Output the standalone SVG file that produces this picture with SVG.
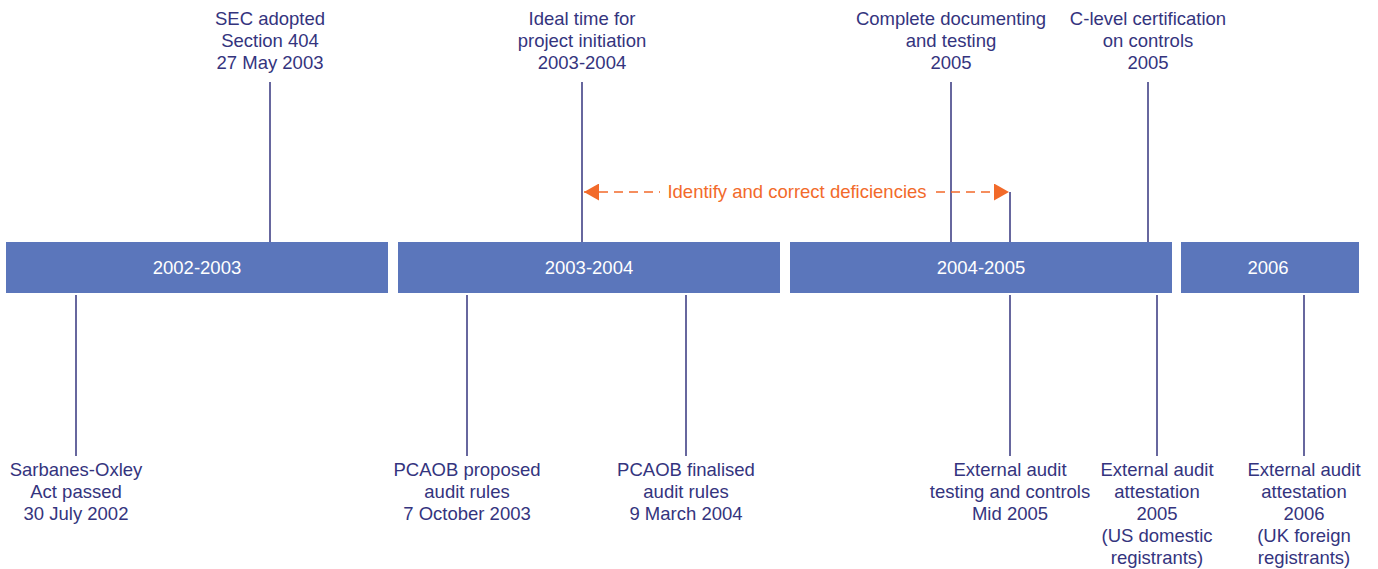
<svg xmlns="http://www.w3.org/2000/svg" width="1378" height="569" viewBox="0 0 1378 569">
  <style>
    .bar { fill: #5b76bb; }
    .bar-label { font-family: "Liberation Sans", Arial, sans-serif; font-size: 18.5px; fill: #ffffff; text-anchor: middle; }
    .label { font-family: "Liberation Sans", Arial, sans-serif; font-size: 18.5px; fill: #34347e; text-anchor: middle; }
    .tick { stroke: #34347e; stroke-width: 1.5; fill: none; }
    .span-line { stroke: #f26a2a; stroke-width: 1.5; stroke-dasharray: 9 6; fill: none; }
    .span-label { font-family: "Liberation Sans", Arial, sans-serif; font-size: 18.5px; fill: #f26a2a; text-anchor: middle; }
  </style>
  <defs>
    <marker id="arrow" viewBox="0 0 10 10" refX="10" refY="5" markerWidth="15" markerHeight="17" markerUnits="userSpaceOnUse" orient="auto-start-reverse" preserveAspectRatio="none">
      <path d="M0,0 L10,5 L0,10 Z" fill="#f26a2a"/>
    </marker>
  </defs>

  <rect width="1378" height="569" fill="#ffffff"/>

  <!-- connectors: ticks joining events to the period bars -->
  <g id="connectors">
    <line class="tick" x1="270" y1="82" x2="270" y2="242"/>
    <line class="tick" x1="582" y1="82" x2="582" y2="242"/>
    <line class="tick" x1="951" y1="82" x2="951" y2="242"/>
    <line class="tick" x1="1148" y1="82" x2="1148" y2="242"/>
    <line class="tick" x1="1010" y1="192" x2="1010" y2="242"/>
    <line class="tick" x1="76" y1="295" x2="76" y2="456"/>
    <line class="tick" x1="467" y1="295" x2="467" y2="456"/>
    <line class="tick" x1="686" y1="295" x2="686" y2="456"/>
    <line class="tick" x1="1010" y1="295" x2="1010" y2="456"/>
    <line class="tick" x1="1157" y1="295" x2="1157" y2="456"/>
    <line class="tick" x1="1304" y1="295" x2="1304" y2="456"/>
    <!-- dashed span with arrowheads at both ends -->
    <line class="span-line" x1="584" y1="192" x2="660" y2="192" marker-start="url(#arrow)"/>
    <line class="span-line" x1="936" y1="192" x2="1009" y2="192" marker-end="url(#arrow)"/>
  </g>

  <!-- period bars -->
  <g id="bar-2002-2003">
    <rect class="bar" x="6" y="242" width="382" height="51"/>
    <text class="bar-label" x="197" y="274">2002-2003</text>
  </g>
  <g id="bar-2003-2004">
    <rect class="bar" x="398" y="242" width="382" height="51"/>
    <text class="bar-label" x="589" y="274">2003-2004</text>
  </g>
  <g id="bar-2004-2005">
    <rect class="bar" x="790" y="242" width="382" height="51"/>
    <text class="bar-label" x="981" y="274">2004-2005</text>
  </g>
  <g id="bar-2006">
    <rect class="bar" x="1181" y="242" width="178" height="51"/>
    <text class="bar-label" x="1268" y="274">2006</text>
  </g>

  <!-- events above the bars -->
  <g id="sec-adopted">
    <text class="label" x="270" y="25">SEC adopted</text>
    <text class="label" x="270" y="47">Section 404</text>
    <text class="label" x="270" y="69">27 May 2003</text>
  </g>
  <g id="project-initiation">
    <text class="label" x="582" y="25">Ideal time for</text>
    <text class="label" x="582" y="47">project initiation</text>
    <text class="label" x="582" y="69">2003-2004</text>
  </g>
  <g id="complete-documenting">
    <text class="label" x="951" y="25">Complete documenting</text>
    <text class="label" x="951" y="47">and testing</text>
    <text class="label" x="951" y="69">2005</text>
  </g>
  <g id="c-level-certification">
    <text class="label" x="1148" y="25">C-level certification</text>
    <text class="label" x="1148" y="47">on controls</text>
    <text class="label" x="1148" y="69">2005</text>
  </g>
  <g id="identify-deficiencies">
    <text class="span-label" x="797" y="198">Identify and correct deficiencies</text>
  </g>

  <!-- events below the bars -->
  <g id="sarbanes-oxley">
    <text class="label" x="76" y="476">Sarbanes-Oxley</text>
    <text class="label" x="76" y="498">Act passed</text>
    <text class="label" x="76" y="520">30 July 2002</text>
  </g>
  <g id="pcaob-proposed">
    <text class="label" x="467" y="476">PCAOB proposed</text>
    <text class="label" x="467" y="498">audit rules</text>
    <text class="label" x="467" y="520">7 October 2003</text>
  </g>
  <g id="pcaob-finalised">
    <text class="label" x="686" y="476">PCAOB finalised</text>
    <text class="label" x="686" y="498">audit rules</text>
    <text class="label" x="686" y="520">9 March 2004</text>
  </g>
  <g id="external-audit-testing">
    <text class="label" x="1010" y="476">External audit</text>
    <text class="label" x="1010" y="498">testing and controls</text>
    <text class="label" x="1010" y="520">Mid 2005</text>
  </g>
  <g id="attestation-us">
    <text class="label" x="1157" y="476">External audit</text>
    <text class="label" x="1157" y="498">attestation</text>
    <text class="label" x="1157" y="520">2005</text>
    <text class="label" x="1157" y="542">(US domestic</text>
    <text class="label" x="1157" y="564">registrants)</text>
  </g>
  <g id="attestation-uk">
    <text class="label" x="1304" y="476">External audit</text>
    <text class="label" x="1304" y="498">attestation</text>
    <text class="label" x="1304" y="520">2006</text>
    <text class="label" x="1304" y="542">(UK foreign</text>
    <text class="label" x="1304" y="564">registrants)</text>
  </g>
</svg>
